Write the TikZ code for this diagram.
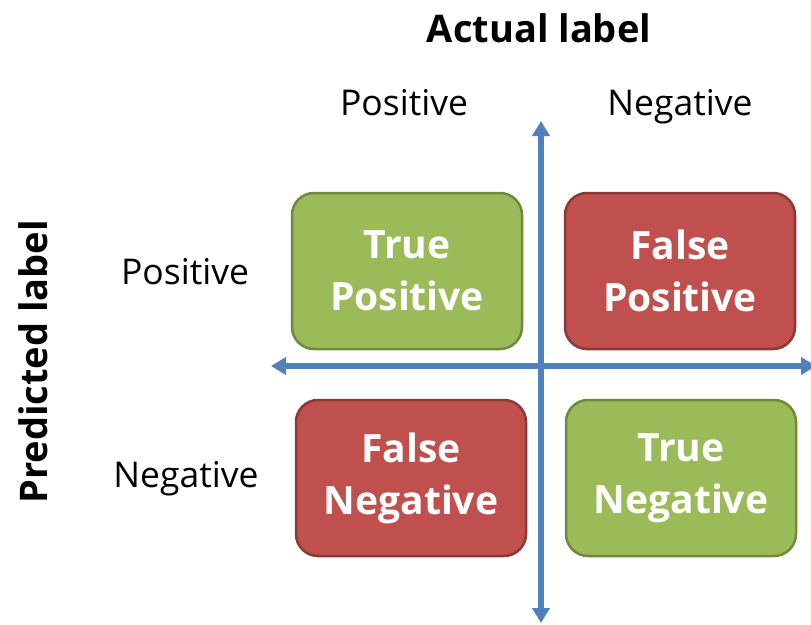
\documentclass[tikz,border=0pt]{standalone}
\usepackage{fontspec}
\setmainfont{Open Sans}
\usetikzlibrary{arrows.meta}
\definecolor{goodfill}{HTML}{9BBB59}
\definecolor{goodline}{HTML}{71893F}
\definecolor{badfill}{HTML}{C0504D}
\definecolor{badline}{HTML}{8C3836}
\definecolor{axisblue}{HTML}{4F81BD}
\tikzset{
  cell/.style={rounded corners=22pt, line width=2.5pt, minimum width=230pt,
    minimum height=156pt, text=white, font=\fontsize{39}{52}\selectfont\bfseries,
    align=center, inner sep=0pt},
  goodcell/.style={cell, fill=goodfill, draw=goodline},
  badcell/.style={cell, fill=badfill, draw=badline},
  header/.style={font=\fontsize{35.5}{40}\selectfont, inner sep=0pt, anchor=base},
  title/.style={font=\fontsize{38}{44}\selectfont\bfseries, inner sep=0pt, anchor=base},
  axisline/.style={draw=axisblue, line width=5.5pt,
    -{Triangle[width=17pt,length=15pt]}}
}
\begin{document}
\begin{tikzpicture}[x=1pt,y=-1pt]
\useasboundingbox (0,0) rectangle (811,624);
\clip (0,0) rectangle (811,624);

% axes
\coordinate (ctr) at (541,366);
\coordinate (up) at (541,121);
\coordinate (down) at (541,623);
\coordinate (left) at (271,366);
\coordinate (right) at (816,366);
\draw[axisline] (ctr) -- (up);
\draw[axisline] (ctr) -- (down);
\draw[axisline] (ctr) -- (left);
\draw[axisline] (ctr) -- (right);

% confusion matrix cells
\node[goodcell] (tp) at (407,271) {True\\Positive};
\node[badcell]  (fp) at (680,271) {False\\Positive};
\node[badcell]  (fn) at (411,478) {False\\Negative};
\node[goodcell] (tn) at (681,478) {True\\Negative};

% labels
\node[title] (actual) at (539,42) {Actual label};
\node[title, rotate=90] (predicted) at (47,362) {Predicted label};
\node[header] (colpos) at (404,115) {Positive};
\node[header] (colneg) at (680,115) {Negative};
\node[header] (rowpos) at (185,284) {Positive};
\node[header] (rowneg) at (186,487) {Negative};
\end{tikzpicture}
\end{document}
